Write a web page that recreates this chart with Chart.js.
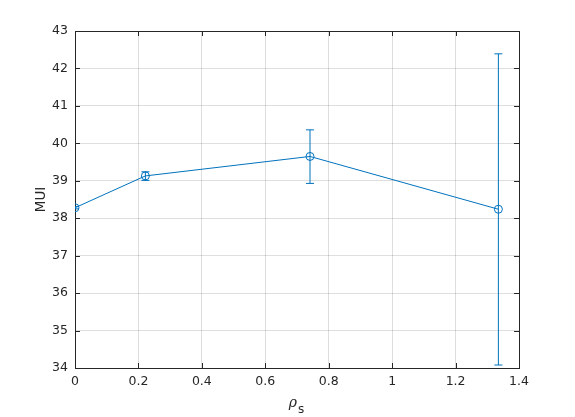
<!DOCTYPE html>
<html>
<head>
<meta charset="utf-8">
<script src="https://cdn.jsdelivr.net/npm/chart.js@4"></script>
<style>
  html, body { margin: 0; padding: 0; background: #fff; }
  #wrap { width: 575px; height: 417px; }
</style>
</head>
<body>
<div id="wrap"><canvas id="chart" width="575" height="417"></canvas></div>
<script>
// values
const rhoS = [0, 0.222, 0.741, 1.335]
const mui = [38.28, 39.13, 39.65, 38.24]
const muiLow = [38.25, 39.01, 38.93, 34.08]
const muiHigh = [38.31, 39.24, 40.36, 42.39]
const xTicks = [0, 0.2, 0.4, 0.6, 0.8, 1, 1.2, 1.4]
const yTicks = [34, 35, 36, 37, 38, 39, 40, 41, 42, 43]

const blue = '#0072BD'
const textColor = '#262626'
const tickFont = { family: 'DejaVu Sans', size: 12.5 }

const datasets = [{
    data: rhoS.map((x, i) => ({ x, y: mui[i] })),
    borderColor: blue,
    borderWidth: 1,
    pointStyle: 'circle',
    pointRadius: 4,
    pointBorderColor: blue,
    pointBackgroundColor: 'rgba(0,0,0,0)',
    pointBorderWidth: 1,
    showLine: true
}]

// one small dataset per error bar, caps drawn as 'line' points
rhoS.forEach((x, i) => {
    datasets.push({
        data: [{ x, y: muiLow[i] }, { x, y: muiHigh[i] }],
        borderColor: blue,
        borderWidth: 1,
        pointStyle: 'line',
        pointRadius: 4,
        pointBorderColor: blue,
        pointBorderWidth: 1,
        showLine: true
    })
})

// MATLAB style inward ticks on all four sides, plus the rho_s label
const inwardTicks = {
    id: 'inwardTicks',
    afterDraw(chart) {
        const { ctx, chartArea: a, scales } = chart
        ctx.save()
        ctx.strokeStyle = textColor
        ctx.lineWidth = 1
        ctx.beginPath()
        xTicks.forEach(v => {
            const px = Math.round(scales.x.getPixelForValue(v)) + 0.5
            ctx.moveTo(px, a.bottom); ctx.lineTo(px, a.bottom - 5)
            ctx.moveTo(px, a.top); ctx.lineTo(px, a.top + 5)
        })
        yTicks.forEach(v => {
            const py = Math.round(scales.y.getPixelForValue(v)) + 0.5
            ctx.moveTo(a.left, py); ctx.lineTo(a.left + 5, py)
            ctx.moveTo(a.right, py); ctx.lineTo(a.right - 5, py)
        })
        ctx.stroke()

        const cx = (a.left + a.right) / 2
        ctx.fillStyle = textColor
        ctx.textBaseline = 'alphabetic'
        ctx.textAlign = 'right'
        ctx.font = 'italic 14px DejaVu Serif'
        ctx.fillText('ρ', cx, 407)
        ctx.textAlign = 'left'
        ctx.font = '12px DejaVu Sans'
        ctx.fillText('s', cx + 1, 413)
        ctx.restore()
    }
}

new Chart(document.getElementById('chart').getContext('2d'), {
    type: 'scatter',
    data: { datasets },
    options: {
        responsive: false,
        animation: false,
        layout: { padding: { left: 33 } },
        plugins: { legend: { display: false }, tooltip: { enabled: false } },
        scales: {
            x: {
                type: 'linear', min: 0, max: 1.4,
                afterBuildTicks: s => { s.ticks = xTicks.map(value => ({ value })) },
                afterFit: s => { s.height = 49 },
                grid: { color: 'rgba(0,0,0,0.13)', drawTicks: false },
                border: { color: textColor },
                ticks: { color: textColor, font: tickFont, padding: 6, maxRotation: 0,
                         callback: v => String(Math.round(v * 10) / 10) }
            },
            x2: {
                type: 'linear', position: 'top', min: 0, max: 1.4,
                afterFit: s => { s.height = 31 },
                grid: { display: false, drawTicks: false },
                border: { color: textColor },
                ticks: { display: false }
            },
            y: {
                type: 'linear', min: 34, max: 43,
                afterBuildTicks: s => { s.ticks = yTicks.map(value => ({ value })) },
                afterFit: s => { s.width = 42 },
                grid: { color: 'rgba(0,0,0,0.13)', drawTicks: false },
                border: { color: textColor },
                ticks: { color: textColor, font: tickFont, padding: 7 },
                title: { display: true, text: 'MUI', color: textColor,
                         font: { family: 'DejaVu Sans', size: 13.5 }, padding: { top: 0, bottom: 0 } }
            },
            y2: {
                type: 'linear', position: 'right', min: 34, max: 43,
                afterFit: s => { s.width = 56 },
                grid: { display: false, drawTicks: false },
                border: { color: textColor },
                ticks: { display: false }
            }
        }
    },
    plugins: [inwardTicks]
})
</script>
</body>
</html>
